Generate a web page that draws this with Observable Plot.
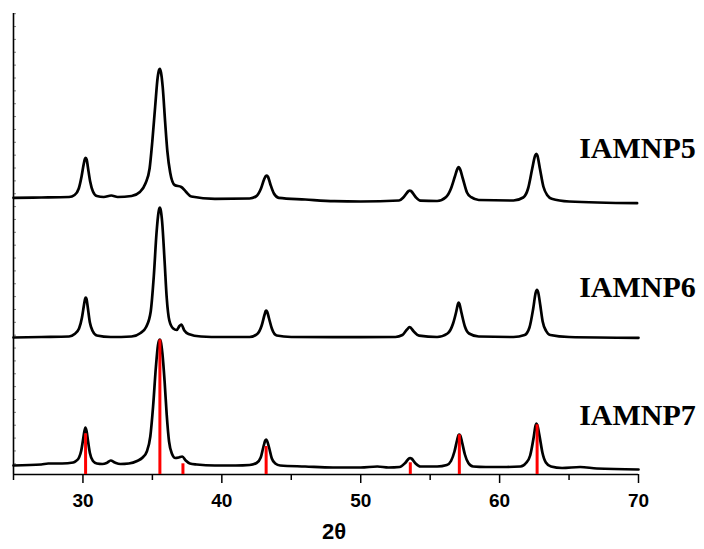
<!DOCTYPE html>
<html>
<head>
<meta charset="utf-8">
<script src="https://cdn.jsdelivr.net/npm/d3@7"></script>
<script src="https://cdn.jsdelivr.net/npm/@observablehq/plot@0.6"></script>
<style>
  html, body { margin: 0; padding: 0; background: #fff; }
  #chart svg { display: block; }
</style>
</head>
<body>
<div id="chart"></div>
<script>
// ---- data (2θ in degrees, intensity in arbitrary stacked units) ----
const sampleNames = ["IAMNP5", "IAMNP6", "IAMNP7"];
const baselines = [276.7, 137.3, 10];

const iamnp5 = [
  [25,276.7],[27,277],[29,277.5],[29.4,279.5],[29.7,286],[29.9,298],[30.05,310],[30.14,315.5],[30.2,316.7],[30.27,315],
  [30.36,307],[30.52,293],[30.72,283],[31.0,278.5],[31.5,277.5],[32.04,279],[32.5,277.5],[33.5,278.5],
  [34.1,282.5],[34.5,291],[34.8,306],[35.0,334],[35.2,368],[35.38,397],[35.48,404.5],[35.54,405.7],[35.62,402],[35.74,388],
  [35.92,352],[36.08,323],[36.28,302],[36.6,289.5],[37.08,287.5],[37.4,283],[37.8,278],[39.5,275.7],
  [42,276],[42.45,278],[42.82,286],[43.04,295],[43.17,298.5],[43.24,299],[43.33,297.5],[43.5,290],[43.75,281],[44.1,276.7],
  [46,275],[48.1,273.3],[50,273],[52.76,274],[53.1,277.5],[53.45,283.5],[53.53,284],[53.62,283.5],[53.95,277.5],[54.3,273.8],
  [55.5,273.5],[56.15,277.5],[56.5,286],[56.78,298],[56.97,306],[57.05,307.3],[57.13,306],[57.35,296],[57.65,282],[57.95,277.3],
  [58.5,274.5],[61,274],[61.7,277],[62.05,286],[62.35,306],[62.56,319],[62.64,320.7],[62.72,319],[62.9,306],[63.15,288],
  [63.45,279],[63.75,275.7],[65,273],[69.9,271.3]
];

const iamnp6 = [
  [25,137],[27,137.5],[29,138],[29.4,140.5],[29.72,146],[29.93,157],[30.08,170],[30.15,175.5],[30.2,177],[30.26,175.5],
  [30.34,168],[30.5,152],[30.7,143.5],[31,139],[32,137.5],[33.5,138],[34.15,141.5],[34.55,147.5],
  [34.88,163],[35.1,198],[35.3,242],[35.44,262],[35.5,266],[35.54,267],[35.6,264.5],[35.7,253],[35.88,213],[36.03,177],
  [36.22,154],[36.5,146],[36.75,144.5],[36.95,148.5],[37.08,150],[37.3,144],[37.6,140.5],[38.5,138],
  [40,137.5],[42,137.5],[42.55,140.5],[42.87,149],[43.08,160],[43.16,163.5],[43.2,164],[43.27,162.5],[43.4,156],[43.6,146],
  [43.95,139],[45,137.5],[48,137.3],[50,137.3],[52.5,137.5],[53.0,139.5],[53.3,144.5],[53.53,147.3],
  [53.82,143],[54.2,138.8],[55.5,137.5],[56.25,141],[56.65,151],[56.88,163],[57.0,170.5],[57.05,172],[57.11,170.5],[57.25,162],
  [57.5,148],[57.8,141],[58.5,138],[61,137.5],[61.8,139.5],[62.15,147],[62.42,166],[62.6,182],
  [62.69,184.7],[62.78,182],[62.92,170],[63.1,153],[63.35,143.5],[63.65,139.5],[65,137.5],[70,136.7]
];

const iamnp7 = [
  [25,9],[27,10],[27.5,11],[28.5,11],[29.3,12],[29.5,13.5],[29.72,17],[29.88,24],[30.0,34],[30.1,43],
  [30.18,47],[30.26,43.5],[30.37,33],[30.5,21.5],[30.72,13.5],[31.0,11],[31.4,10.5],[31.7,11.5],[32.0,14],
  [32.3,12],[32.7,10.5],[33.3,11],[33.9,13.5],[34.3,17],[34.6,23],[34.85,38],[35.05,68],[35.25,107],
  [35.4,129],[35.48,134],[35.54,135],[35.61,132.5],[35.72,121],[35.88,93],[36.03,60],[36.2,33],[36.4,21],[36.65,16.5],[36.9,17],
  [37.15,18],[37.4,14],[37.7,11],[38.2,10],[39.5,9],[41,9],[42,9.5],[42.5,11.5],[42.8,17],[43.0,28],
  [43.13,34],[43.19,35],[43.26,33.5],[43.4,27],[43.6,16],[43.85,11],[44.2,9],[46,8],[48,7],[50,7],[51.2,8],[52,7],
  [52.8,7.5],[53.2,11.5],[53.5,16.3],[53.57,16.5],[53.65,16],[53.95,11],[54.3,8],[55.5,8],[56.2,9.5],[56.5,13.5],[56.75,23],
  [56.95,35],[57.04,39.3],[57.1,40],[57.17,39],[57.3,32],[57.5,20],[57.75,11.5],[58.1,8],[59,7.5],[60.5,7.5],[61.5,8],
  [61.9,11.5],[62.2,19],[62.45,37],[62.58,48.5],[62.65,51],[62.73,48.5],[62.88,38],[63.08,22],[63.33,12],[63.7,8],[64.5,6.5],
  [65.8,7.5],[67,6],[70,5]
];

// reference (standard) peak positions and heights
const refTheta  = [30.19, 35.54, 37.2, 43.19, 53.57, 57.1, 62.7];
const refHeight = [40.7, 134.7, 10.7, 28, 11.7, 39.7, 49.7];

const majorTicks = [30, 40, 50, 60, 70];
const minorTicks = [25, 35, 45, 55, 65];
const xLabel = "2θ";

// ---- build tables ----
const seriesData = [iamnp5, iamnp6, iamnp7];
const lineData = seriesData.flatMap((arr, i) =>
  arr.map(([t, v]) => ({theta: t, value: v, sample: sampleNames[i]})));
const refData = refTheta.map((t, i) => ({theta: t, h: refHeight[i]}));
const labelData = sampleNames.map((s, i) => ({name: s, y: baselines[i] + 40}));
const yTicks = d3.range(10.7, 461, 12.86);

const chart = Plot.plot({
  width: 704,
  height: 549,
  marginLeft: 13,
  marginRight: 66,
  marginTop: 13,
  marginBottom: 75,
  style: {fontFamily: "Liberation Sans, Arial, sans-serif", background: "#fff", color: "#000"},
  x: {domain: [25, 70]},
  y: {domain: [0, 461]},
  marks: [
    Plot.axisX({ticks: majorTicks, tickSize: 9, tickPadding: 10, strokeWidth: 1.5,
      fontSize: 19, fontWeight: "bold", tickFormat: d => d, label: null}),
    Plot.axisX({ticks: minorTicks, tickSize: 6, strokeWidth: 1.5, tickFormat: () => "", label: null}),
    Plot.axisY({ticks: yTicks, tickSize: -3, strokeWidth: 0.8, stroke: "#666", tickFormat: () => "", label: null}),
    Plot.ruleY([0], {stroke: "#000", strokeWidth: 1.6}),
    Plot.ruleX([25], {stroke: "#000", strokeWidth: 1.6}),
    Plot.line(lineData, {x: "theta", y: "value", z: "sample", stroke: "#000",
      strokeWidth: 2.7, curve: "monotone-x"}),
    Plot.ruleX(refData, {x: "theta", y1: 0, y2: "h", stroke: "#ff0000", strokeWidth: 3}),
    Plot.text(labelData, {x: 65.73, y: "y", text: "name", textAnchor: "start", lineAnchor: "bottom",
      fontFamily: "Liberation Serif, Times New Roman, serif", fontWeight: "bold", fontSize: 30, fill: "#000"}),
    Plot.text([xLabel], {frameAnchor: "bottom", dx: 8, dy: 64, text: d => d,
      fontWeight: "bold", fontSize: 22, fill: "#000"})
  ]
});
document.getElementById("chart").append(chart);
</script>
</body>
</html>
